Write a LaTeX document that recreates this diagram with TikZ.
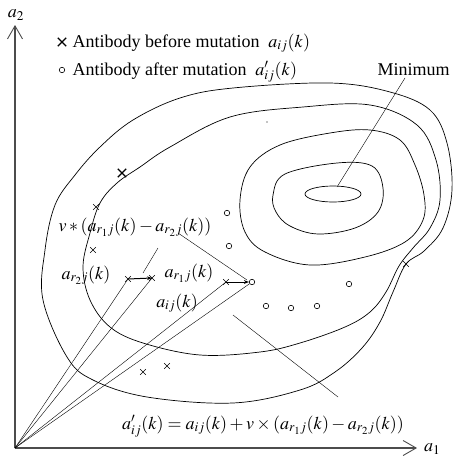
\documentclass[tikz,border=0pt]{standalone}
\usepackage{mathptmx}
\usepackage[no-math]{fontspec}
\setmainfont{Liberation Serif}
\usetikzlibrary{arrows.meta,shapes.misc}

\begin{document}
\begin{tikzpicture}[x=1pt, y=-1pt, font=\fontsize{18}{21}\selectfont,
		before/.style={cross out, draw, minimum size=5pt, inner sep=0pt, line width=0.6pt},
		bigbefore/.style={before, minimum size=7pt, line width=1.3pt},
		after/.style={circle, draw, minimum size=5.5pt, inner sep=0pt, line width=0.6pt},
		level/.style={line width=0.7pt},
		axis/.style={line width=1.3pt, draw=black!70, -{Straight Barb[length=13pt, width=15pt, line width=0.9pt]}}]
		\useasboundingbox (0, 0) rectangle (457, 458);
		\coordinate (O) at (15, 448);
		\coordinate (X) at (417, 448);
		\coordinate (Y) at (15, 25);
		\draw [axis] (O) -- (X);
		\draw [axis] (O) -- (Y);
		\node [anchor=west, inner sep=0pt] (a1) at (424, 449) {$a_1$};
		\node (a2) at (16, 15) {$a_2$};
		\node [bigbefore] (legx) at (62, 42) {};
		\node [anchor=base west] (legxt) at (69, 47) {Antibody before mutation \ $a_{ij}(k)$};
		\node [after] (lego) at (62, 70) {};
		\node [anchor=base west] (legot) at (69, 75) {Antibody after mutation \ $a'_{ij}(k)$};
		\node [anchor=base west] (minl) at (374, 75) {Minimum};
		\draw [level] plot [smooth cycle, tension=0.6] coordinates {(233, 88) (330, 83) (390, 92) (430, 110) (447, 143) (452, 190) (443, 228) (424, 251) (406, 264) (393, 292) (380, 322) (362, 348) (335, 372) (300, 390) (233, 403) (147, 397) (93, 380) (67, 357) (43, 300) (45, 250) (55, 205) (75, 175) (100, 147) (133, 120) (180, 98)};
		\draw [level] plot [smooth cycle, tension=0.6] coordinates {(230, 117) (303, 107) (370, 105) (417, 125) (436, 160) (440, 200) (430, 228) (413, 248) (399, 266) (386, 292) (370, 312) (345, 327) (300, 343) (260, 352) (200, 355) (143, 343) (110, 327) (90, 300) (83, 267) (90, 233) (100, 203) (117, 183) (140, 167) (170, 147)};
		\draw [level] plot [smooth cycle, tension=0.6] coordinates {(250, 167) (280, 145) (330, 133) (370, 130) (400, 140) (415, 165) (424, 195) (423, 220) (405, 242) (365, 257) (310, 265) (265, 252) (245, 232) (240, 200)};
		\draw [level] plot [smooth cycle, tension=0.6] coordinates {(273, 195) (285, 174) (337, 163) (372, 166) (383, 188) (378, 212) (355, 228) (318, 234) (290, 226) (276, 212)};
		\draw [level] (333, 194) ellipse (28 and 8);
		\coordinate (minp) at (337, 187);
		\coordinate (minf) at (405, 78);
		\draw (minp) -- (minf);
		\fill (267, 122) circle (0.7);
		\node [bigbefore] (x1) at (122, 173) {};
		\node [before] (x2) at (96, 207) {};
		\node [before] (x3) at (93, 250) {};
		\node [before] (x4) at (143, 372) {};
		\node [before] (x5) at (167, 366) {};
		\node [before] (x6) at (406, 264) {};
		\node [after] (o1) at (227, 213) {};
		\node [after] (o2) at (229, 246) {};
		\node [after] (o3) at (266, 306) {};
		\node [after] (o4) at (291, 308) {};
		\node [after] (o5) at (317, 306) {};
		\node [after] (o6) at (349, 284) {};
		\node [before] (r2) at (128, 279) {};
		\node [before] (r1) at (152, 278) {};
		\node [before] (aij) at (226, 282) {};
		\node [after] (anew) at (252, 282) {};
		\draw (O) -- (r2.center);
		\draw (O) -- (r1.center);
		\draw (O) -- (aij.center);
		\draw (O) -- (anew);
		\draw [line width=1pt, -{Stealth[length=5pt]}] (r2.center) -- (r1.center);
		\draw [line width=1pt, -{Stealth[length=5pt]}] (aij.center) -- (anew);
		\node (lr2) at (86, 275) {$a_{r_2j}(k)$};
		\node (lr1) at (189, 273) {$a_{r_1j}(k)$};
		\node (laij) at (177, 303) {$a_{ij}(k)$};
		\node (ldiff) at (135, 227) {$v*(a_{r_1j}(k)-a_{r_2j}(k))$};
		\node (lform) at (263, 426) {$a'_{ij}(k)=a_{ij}(k)+v\times(a_{r_1j}(k)-a_{r_2j}(k))$};
		\coordinate (d1) at (178, 233);
		\coordinate (d2) at (247, 280);
		\draw (d1) -- (d2);
		\coordinate (s1) at (143, 273);
		\coordinate (s2) at (158, 248);
		\draw (s1) -- (s2);
		\coordinate (f1) at (233, 315);
		\coordinate (f2) at (338, 397);
		\draw (f1) -- (f2);
	\end{tikzpicture}
\end{document}
